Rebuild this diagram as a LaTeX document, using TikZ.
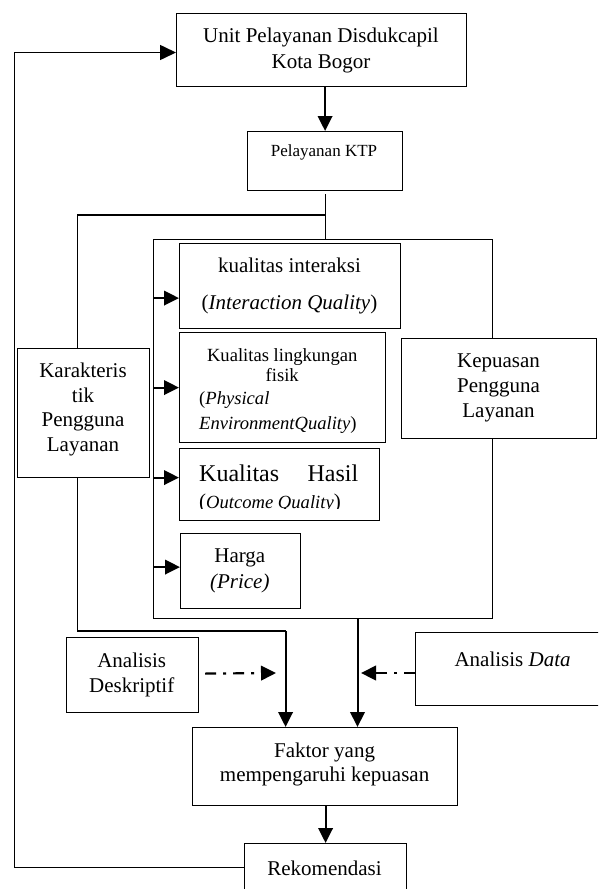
\documentclass[tikz,border=0pt]{standalone}
\usepackage{fontspec}
\setmainfont{Liberation Serif}
\usetikzlibrary{arrows.meta}
\newcommand{\fsz}[2]{\fontsize{#1}{#2}\selectfont}
\begin{document}
\begin{tikzpicture}[x=1pt,y=-1pt,
  bx/.style={draw, line width=1.2pt, inner sep=0pt, anchor=north west, fill=white},
  txt/.style={inner sep=0pt, align=center, font=\fsz{21}{25}},
  ltxt/.style={inner sep=0pt, anchor=base west},
  ln/.style={line width=1.3pt},
  arr/.style={line width=2pt, -{Triangle[length=15pt,width=14.5pt]}},
  ddarr/.style={line width=2.2pt, dash pattern=on 11pt off 7pt on 3pt off 7pt, -{Triangle[length=15pt,width=14.5pt]}},
]
\useasboundingbox (0,0) rectangle (598,889);
\clip (0,0) rectangle (598,889);

% boxes
\node[bx, minimum width=290pt, minimum height=73pt] (unit) at (176,13) {};
\node[bx, minimum width=155pt, minimum height=59pt] (ktp) at (247,131) {};
\node[bx, minimum width=339pt, minimum height=379pt] (big) at (153,239) {};
\node[bx, minimum width=221pt, minimum height=85pt] (q1) at (179,243) {};
\node[bx, minimum width=206pt, minimum height=110pt] (q2) at (179,332) {};
\node[bx, minimum width=200pt, minimum height=72pt] (q3) at (179,448) {};
\node[bx, minimum width=120pt, minimum height=75pt] (q4) at (180,533) {};
\node[bx, minimum width=132pt, minimum height=129pt] (kar) at (17,348) {};
\node[bx, minimum width=195pt, minimum height=100pt] (kep) at (401,338) {};
\node[bx, minimum width=132pt, minimum height=75pt] (ades) at (66,637) {};
\node[bx, minimum width=205pt, minimum height=73pt] (adata) at (415,632) {};
\node[bx, minimum width=265pt, minimum height=78pt] (faktor) at (192,727) {};
\node[bx, minimum width=162pt, minimum height=48pt] (rek) at (244,843) {};

% texts
\node[txt, font=\fsz{21}{26.7}] (unitT) at (321,50.5) {Unit Pelayanan Disdukcapil\\Kota Bogor};
\node[txt, font=\fsz{17}{20}] (ktpT) at (324,152) {Pelayanan KTP};
\node[txt, font=\fsz{21}{36.3}] (q1T) at (289.5,286) {kualitas interaksi\\(\textit{Interaction Quality})};
\node[txt, font=\fsz{18.6}{20}] (q2T) at (282.2,365) {Kualitas lingkungan\\fisik};
\node[ltxt, font=\fsz{18.6}{20}] (q2Ta) at (199,404.5) {(\textit{Physical}};
\node[ltxt, font=\fsz{18.6}{20}] (q2Tb) at (199,429.5) {\textit{EnvironmentQuality})};
\node[ltxt, font=\fsz{24}{28}] (q3T) at (199,481) {\makebox[159pt][s]{Kualitas Hasil}};
\begin{scope}
\clip (179,440) rectangle (380,508.5);
\node[ltxt, font=\fsz{18.6}{20}] (q3Tb) at (199,508) {{\fsz{21}{24}(}\textit{Outcome Quality}{\fsz{21}{24})}};
\end{scope}
\node[txt, font=\fsz{21}{25.6}] (q4T) at (239.8,571) {Harga\\\textit{(Price)}};
\node[txt, font=\fsz{21}{24.8}] (karT) at (83,409.5) {Karakteris\\tik\\Pengguna\\Layanan};
\node[txt] (kepT) at (498.5,387.5) {Kepuasan\\Pengguna\\Layanan};
\node[txt] (adesT) at (131.7,674.5) {Analisis\\Deskriptif};
\node[txt] (adataT) at (512.6,659) {Analisis \textit{Data}};
\node[txt, font=\fsz{21}{24}] (faktorT) at (324.6,764) {Faktor yang\\mempengaruhi kepuasan};
\node[txt] (rekT) at (324.5,868) {Rekomendasi};

% coordinates
\coordinate (j) at (325.5,215);
\coordinate (jl) at (77.5,215);
\coordinate (k1) at (77.5,631);
\coordinate (k2) at (285.6,631);
\coordinate (bcx) at (357.5,0);
\coordinate (d1) at (276,673);
\coordinate (d2) at (361,673);
\coordinate (fbt) at (14.5,52.5);

% connectors
\draw[arr] (ktp.north |- unit.south) -- (ktp.north);
\draw[ln] (j |- ktp.south) ++(0,3) -- (j |- big.north);
\draw[ln] (j) -- (jl) -- (jl |- kar.north);
\draw[ln] (jl |- kar.south) -- (k1) -- (k2);
\draw[arr] (k2) -- (k2 |- faktor.north);
\draw[arr] (bcx |- big.south) -- (bcx |- faktor.north);

\draw[arr] ([xshift=-26pt,yshift=-12pt]q1.west) -- ([yshift=-12pt]q1.west);
\draw[arr] ([xshift=-26pt]q2.west) -- (q2.west);
\draw[arr] ([xshift=-26pt,yshift=7pt]q3.west) -- ([yshift=7pt]q3.west);
\draw[arr] ([xshift=-27pt,yshift=4pt]q4.west) -- ([yshift=4pt]q4.west);

\draw[ddarr] (ades.east) ++(6,-1.5) -- (d1);
\draw[ddarr] (adata.west |- d2) -- (d2);

\draw[arr] (rek.north |- faktor.south) -- (rek.north);
\draw[line width=1.6pt, -{Triangle[length=16pt,width=15pt]}] (rek.west) -- (rek.west -| fbt) -- (fbt) -- (fbt -| unit.west);
\end{tikzpicture}
\end{document}
